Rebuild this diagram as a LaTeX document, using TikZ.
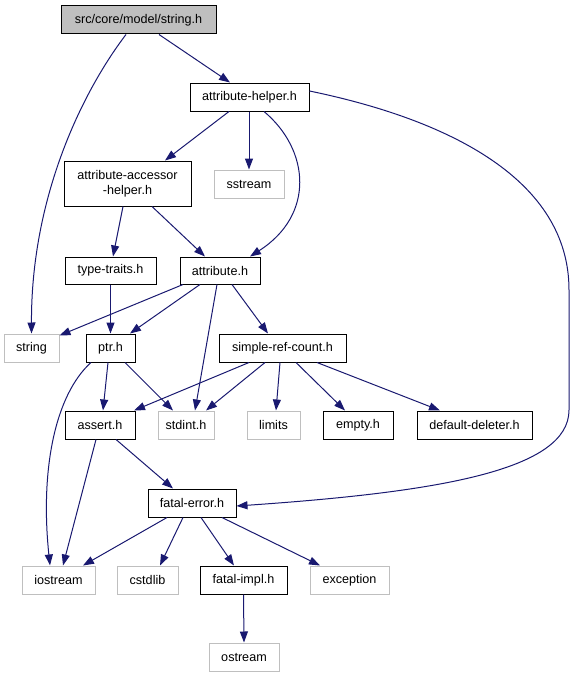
\documentclass[tikz,border=0pt]{standalone}
\usepackage{fontspec}
\setmainfont{Liberation Sans}
\usepackage{xcolor}
\usepackage{tikz}
\usetikzlibrary{arrows.meta, positioning, calc}

\definecolor{edgeblue}{HTML}{191970}
\definecolor{extgray}{HTML}{BFBFBF}

\begin{document}
\begin{tikzpicture}[
    x=1pt, y=-1pt,
    hdr/.style={draw=black, line width=1pt, minimum height=28pt, inner sep=0pt, align=center, font=\fontsize{12.6}{14.5}\selectfont},
    ext/.style={hdr, draw=extgray},
    dep/.style={draw=edgeblue, line width=1pt, -{Triangle[length=11pt,width=8pt]}}
]
    \useasboundingbox (0,0) rectangle (576,677);

    % include files
    \node[hdr, fill=extgray, minimum width=155pt] (root) at (138.5,20) {src/core/model/string.h};
    \node[hdr, minimum width=119pt] (ahelper) at (249.5,97) {attribute-helper.h};
    \node[hdr, minimum width=127pt, minimum height=45pt] (aacc) at (127.5,183.5) {attribute-accessor\\-helper.h};
    \node[ext, minimum width=70pt] (sstream) at (249,184) {sstream};
    \node[hdr, minimum width=91pt, minimum height=27pt] (ttraits) at (110.5,270.5) {type-traits.h};
    \node[hdr, minimum width=80pt, minimum height=27pt] (attr) at (220,270.5) {attribute.h};
    \node[ext, minimum width=55pt] (string) at (31.5,348) {string};
    \node[hdr, minimum width=49pt] (ptr) at (110.5,348) {ptr.h};
    \node[hdr, minimum width=127pt] (srefc) at (282.5,348) {simple-ref-count.h};
    \node[hdr, minimum width=70pt] (assert) at (100,425) {assert.h};
    \node[ext, minimum width=56pt] (stdint) at (186,425) {stdint.h};
    \node[ext, minimum width=53pt] (limits) at (273.5,425) {limits};
    \node[hdr, minimum width=70pt] (empty) at (358,425) {empty.h};
    \node[hdr, minimum width=115pt] (ddel) at (474.5,425) {default-deleter.h};
    \node[hdr, minimum width=88pt] (ferr) at (192,503) {fatal-error.h};
    \node[ext, minimum width=73pt] (iostream) at (58.5,580) {iostream};
    \node[ext, minimum width=61pt] (cstdlib) at (147.5,580) {cstdlib};
    \node[hdr, minimum width=87pt] (fimpl) at (243.5,580) {fatal-impl.h};
    \node[ext, minimum width=79pt] (exception) at (349.5,580) {exception};
    \node[ext, minimum width=70pt] (ostream) at (244,657) {ostream};

    % dependencies
    \draw[dep] ([xshift=-12.5pt]root.south) .. controls (80,95) and (31,200) .. (string.north);
    \draw[dep] ([xshift=20.5pt]root.south) -- ([xshift=-19.5pt]ahelper.north);
    \draw[dep] ([xshift=-20.5pt]ahelper.south) -- ([xshift=37.5pt]aacc.north);
    \draw[dep] ([xshift=-0.5pt]ahelper.south) -- (sstream.north);
    \draw[dep] ([xshift=14.5pt]ahelper.south) .. controls (310,150) and (315,215) .. ([xshift=30pt]attr.north);
    \draw[dep] ([yshift=6pt]ahelper.east) .. controls (450,120) and (569,180) .. (569,290)
        -- (569,410) .. controls (569,470) and (440,492) .. ([yshift=-3pt]ferr.east);
    \draw[dep] ([xshift=-4.5pt]aacc.south) -- ([xshift=2.5pt]ttraits.north);
    \draw[dep] ([xshift=24.5pt]aacc.south) -- ([xshift=-15pt]attr.north);
    \draw[dep] (ttraits.south) -- (ptr.north);
    \draw[dep] ([xshift=-37pt]attr.south) -- ([yshift=-2pt]string.north east);
    \draw[dep] ([xshift=-20pt]attr.south) -- ([xshift=19.5pt]ptr.north);
    \draw[dep] ([xshift=-3pt]attr.south) -- ([xshift=9pt]stdint.north);
    \draw[dep] ([xshift=12pt]attr.south) -- ([xshift=-14.5pt]srefc.north);
    \draw[dep] ([xshift=-19.5pt]ptr.south) .. controls (55,395) and (40,470) .. ([xshift=-8.5pt]iostream.north);
    \draw[dep] ([xshift=-2.5pt]ptr.south) -- ([xshift=3pt]assert.north);
    \draw[dep] ([xshift=14.5pt]ptr.south) -- ([xshift=-13pt]stdint.north);
    \draw[dep] ([xshift=-33.5pt]srefc.south) -- ([xshift=34pt]assert.north);
    \draw[dep] ([xshift=-17.5pt]srefc.south) -- ([xshift=20pt]stdint.north);
    \draw[dep] ([xshift=-2.5pt]srefc.south) -- ([xshift=2.5pt]limits.north);
    \draw[dep] ([xshift=13.5pt]srefc.south) -- ([xshift=-13pt]empty.north);
    \draw[dep] ([xshift=34.5pt]srefc.south) -- ([xshift=-34.5pt]ddel.north);
    \draw[dep] ([xshift=-4pt]assert.south) -- ([xshift=4.5pt]iostream.north);
    \draw[dep] ([xshift=16pt]assert.south) -- ([xshift=-19pt]ferr.north);
    \draw[dep] ([xshift=-25pt]ferr.south) -- ([xshift=24.5pt]iostream.north);
    \draw[dep] ([xshift=-9pt]ferr.south) -- ([xshift=12.5pt]cstdlib.north);
    \draw[dep] ([xshift=9pt]ferr.south) -- ([xshift=-9.5pt]fimpl.north);
    \draw[dep] ([xshift=30pt]ferr.south) -- ([xshift=-29.5pt]exception.north);
    \draw[dep] (fimpl.south) -- (ostream.north);
\end{tikzpicture}
\end{document}
